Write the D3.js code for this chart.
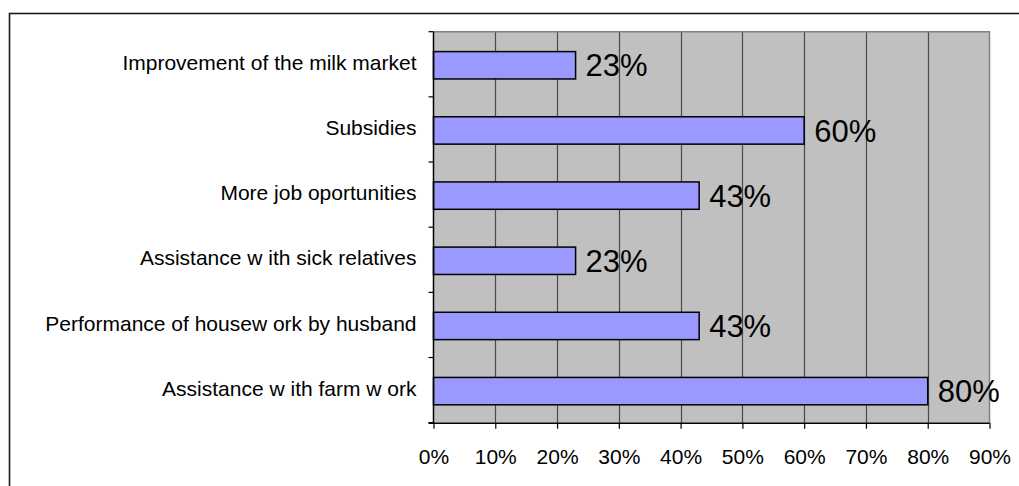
<!DOCTYPE html>
<html>
<head>
<meta charset="utf-8">
<script src="https://cdn.jsdelivr.net/npm/d3@7"></script>
<style>
  html, body { margin: 0; padding: 0; background: #fff; }
  svg { display: block; font-family: "Liberation Sans", Arial, sans-serif; }
</style>
</head>
<body>
<svg id="chart" width="1019" height="486"></svg>
<script>
// Survey responses: share of respondents naming each kind of help
const categories = [
  "Improvement of the milk market",
  "Subsidies",
  "More job oportunities",
  "Assistance w ith sick relatives",
  "Performance of housew ork by husband",
  "Assistance w ith farm w ork"
];
const values = [23, 60, 43, 23, 43, 80];
const tickValues = [0, 10, 20, 30, 40, 50, 60, 70, 80, 90];

const svg = d3.select("#chart");

// Outer chart frame (right and bottom edges run past the canvas)
svg.append("rect")
  .attr("x", 9.5).attr("y", 13.5)
  .attr("width", 1030).attr("height", 500)
  .attr("fill", "#fff")
  .attr("stroke", "#1a1a1a")
  .attr("stroke-width", 1.6);

const plot = { left: 433.5, top: 31.7, right: 989.5, bottom: 422.7 };

const x = d3.scaleLinear().domain([0, 90]).range([plot.left, plot.right]);
const y = d3.scaleBand().domain(categories).range([plot.top, plot.bottom])
  .paddingInner(0.58).paddingOuter(0.29);
const band = d3.scaleBand().domain(categories).range([plot.top, plot.bottom]);

// Plot background
svg.append("rect")
  .attr("x", plot.left).attr("y", plot.top)
  .attr("width", plot.right - plot.left).attr("height", plot.bottom - plot.top)
  .attr("fill", "#c0c0c0");

// Vertical gridlines
svg.append("g").selectAll("line")
  .data(tickValues.slice(1, -1))
  .join("line")
  .attr("x1", d => Math.round(x(d)) + 0.5).attr("x2", d => Math.round(x(d)) + 0.5)
  .attr("y1", plot.top).attr("y2", plot.bottom)
  .attr("stroke", "#4a4a4a").attr("stroke-width", 1.2);

// Plot border (top and right)
svg.append("path")
  .attr("d", `M${plot.left},${plot.top}H${plot.right}V${plot.bottom}`)
  .attr("fill", "none").attr("stroke", "#808080").attr("stroke-width", 1.5);

// Bars
svg.append("g").selectAll("rect")
  .data(values)
  .join("rect")
  .attr("x", x(0))
  .attr("y", (d, i) => y(categories[i]) + 1)
  .attr("width", d => x(d) - x(0))
  .attr("height", y.bandwidth())
  .attr("fill", "#9999ff")
  .attr("stroke", "#000")
  .attr("stroke-width", 1.5);

// Value labels
svg.append("g").selectAll("text")
  .data(values)
  .join("text")
  .attr("x", d => x(d) + 10)
  .attr("y", (d, i) => y(categories[i]) + 1 + y.bandwidth() / 2)
  .attr("dy", "0.36em")
  .attr("font-size", 31)
  .attr("fill", "#000")
  .text(d => d + "%");

// X axis
const xAxis = svg.append("g")
  .attr("transform", `translate(0,${plot.bottom})`)
  .call(d3.axisBottom(x).tickValues(tickValues).tickFormat(d => d + "%")
    .tickSize(6).tickSizeOuter(0).tickPadding(20));
xAxis.select(".domain").attr("stroke", "#000").attr("stroke-width", 1.5)
  .attr("d", `M${plot.left - 5},0.5H${plot.right}`);
xAxis.selectAll(".tick line").attr("stroke", "#000").attr("stroke-width", 1.2);
xAxis.selectAll(".tick text").attr("font-size", 21).attr("fill", "#000")
  .attr("font-family", "Liberation Sans, Arial, sans-serif");

// Y axis: line with ticks at category boundaries
const yAxis = svg.append("g");
yAxis.append("line")
  .attr("x1", plot.left).attr("x2", plot.left)
  .attr("y1", plot.top).attr("y2", plot.bottom)
  .attr("stroke", "#000").attr("stroke-width", 1.5);
const boundaries = categories.map(c => band(c)).concat([plot.bottom]);
yAxis.selectAll("line.tick")
  .data(boundaries)
  .join("line")
  .attr("class", "tick")
  .attr("x1", plot.left - 5).attr("x2", plot.left)
  .attr("y1", d => d).attr("y2", d => d)
  .attr("stroke", "#000").attr("stroke-width", 1.2);

// Category labels
svg.append("g").selectAll("text")
  .data(categories)
  .join("text")
  .attr("x", plot.left - 17)
  .attr("y", d => band(d) + band.bandwidth() / 2 - 2)
  .attr("dy", "0.36em")
  .attr("text-anchor", "end")
  .attr("font-size", 21)
  .attr("fill", "#000")
  .text(d => d);
</script>
</body>
</html>
